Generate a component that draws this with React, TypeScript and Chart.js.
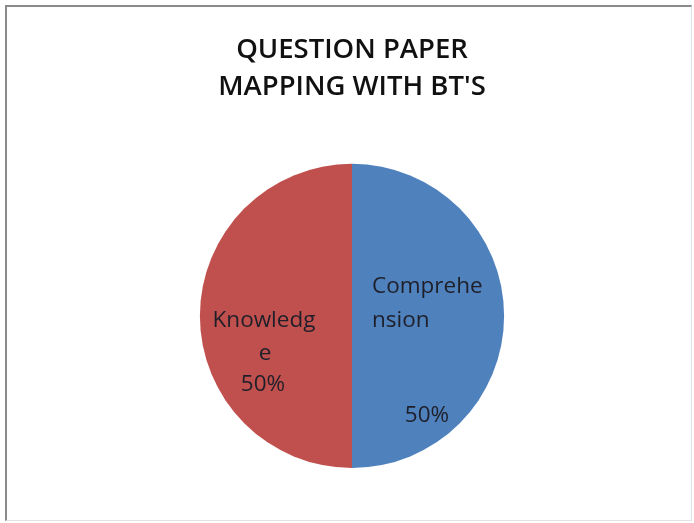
import React, { useEffect, useRef } from "react";
import { Chart, registerables } from "chart.js";

Chart.register(...registerables);

const categories = ["Comprehension", "Knowledge"];
const values = [50, 50];
const colors = ["#4F81BD", "#C0504D"];
const titleLines = ["QUESTION PAPER", "MAPPING WITH BT'S"];

// wrapped label lines as shown in the picture
const labelLines = [
  [
    { t: "Comprehe", dx: 20, dy: -29, align: "left" },
    { t: "nsion", dx: 20, dy: 5, align: "left" },
    { t: "50%", dx: 75, dy: 100, align: "center" },
  ],
  [
    { t: "Knowledg", dx: -88, dy: 5, align: "center" },
    { t: "e", dx: -87, dy: 38, align: "center" },
    { t: "50%", dx: -89, dy: 69, align: "center" },
  ],
];

const labelPlugin = {
  id: "sliceLabels",
  afterDatasetsDraw(chart: any) {
    const ctx = chart.ctx;
    const meta = chart.getDatasetMeta(0);
    const total = values.reduce((a, b) => a + b, 0);
    ctx.save();
    ctx.font = "22.5px 'Open Sans'";
    ctx.fillStyle = "#1f1f2a";
    ctx.textBaseline = "middle";
    meta.data.forEach((arc: any, i: number) => {
      const pct = Math.round((values[i] / total) * 100) + "%";
      labelLines[i].forEach((l) => {
        ctx.textAlign = l.align;
        const txt = l.t.includes("%") ? pct : l.t;
        ctx.fillText(txt, arc.x + l.dx, arc.y + l.dy);
      });
    });
    ctx.restore();
  },
};

export default function App() {
  const ref = useRef<HTMLCanvasElement>(null);
  useEffect(() => {
    document.body.style.margin = "0";
    const chart = new Chart(ref.current!, {
      type: "pie",
      data: {
        labels: categories,
        datasets: [
          {
            data: values,
            backgroundColor: colors,
            borderWidth: 0,
          },
        ],
      },
      options: {
        animation: false,
        responsive: false,
        layout: { padding: { left: 4, right: 0, top: 0, bottom: 53 } },
        plugins: {
          legend: { display: false },
          tooltip: { enabled: false },
          title: {
            display: true,
            text: titleLines,
            color: "#111",
            font: { family: "'Open Sans'", size: 27.5, weight: "600", lineHeight: 1.36 },
            padding: { top: 24, bottom: 58 },
          },
        },
      },
      plugins: [labelPlugin],
    });
    return () => chart.destroy();
  }, []);
  return (
    <div style={{ position: "fixed", left: 0, top: 0, width: 694, height: 523, background: "#fff" }}>
      <div
        style={{
          position: "absolute",
          left: 5,
          top: 5,
          width: 687,
          height: 516,
          boxSizing: "border-box",
          borderTop: "2px solid #8a8a8a",
          borderLeft: "2px solid #8a8a8a",
          borderRight: "1px solid #e2e2e2",
          borderBottom: "1px solid #e2e2e2",
        }}
      />
      <canvas
        ref={ref}
        width={684}
        height={514}
        style={{ position: "absolute", left: 8, top: 7, width: 684, height: 514 }}
      />
    </div>
  );
}
